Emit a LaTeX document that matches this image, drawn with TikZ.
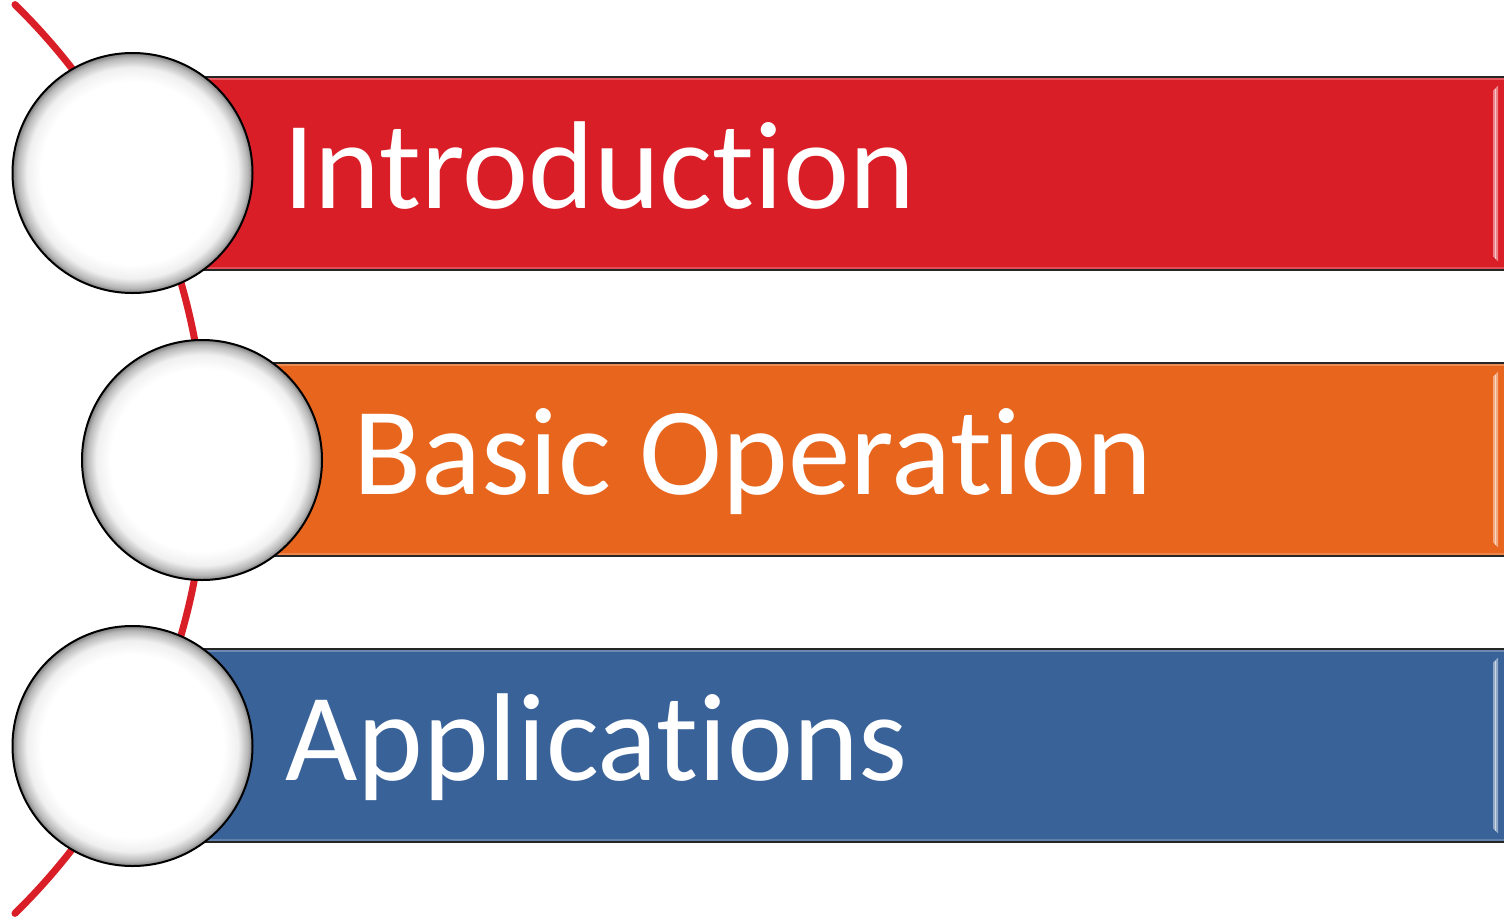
\documentclass[tikz,border=0pt]{standalone}
\usepackage{fontspec}
\setmainfont{Carlito}[Ligatures={NoCommon,NoRequired,NoContextual}]
\definecolor{barred}{HTML}{DA1E28}
\definecolor{barorange}{HTML}{E8651D}
\definecolor{barblue}{HTML}{396299}
\pgfdeclareradialshading{glossy}{\pgfpoint{0bp}{0bp}}{%
  color(0bp)=(white); color(19bp)=(white); color(22bp)=(black!6);
  color(24bp)=(black!28); color(25bp)=(black!50); color(50bp)=(black!50)}
\tikzset{
  bubble/.style={circle, minimum size=240pt, inner sep=0pt,
    shading=glossy, draw=black, line width=2pt},
  bar/.style={rectangle, minimum width=1380pt, minimum height=193pt,
    inner sep=0pt, draw=black!85, line width=2.5pt},
  caption/.style={anchor=base west, text=white, inner sep=0pt,
    font=\fontsize{125}{140}\selectfont},
  spine/.style={draw=barred, line width=7pt, line cap=round},
}
\begin{document}
\begin{tikzpicture}[x=1pt, y=-1pt]
  \clip (0,0) rectangle (1504,918);
  \fill[white] (0,0) rectangle (1504,918);

  % red spine behind the bubbles
  \draw[spine] (-430,459) ++(-45.6:636) arc[start angle=-45.6, end angle=45.6, radius=636];

  % coloured bars
  \node[bar, fill=barred]    (b1) at (830,173.5) {};
  \node[bar, fill=barorange] (b2) at (830,459.5) {};
  \node[bar, fill=barblue]   (b3) at (830,745.5) {};

  % soft highlight bands along the inner bar edges
  \foreach \b/\c in {b1/barred, b2/barorange, b3/barblue}{
    \draw[\c!75!white, line width=2pt] ([yshift=-3pt]\b.north west) -- ([yshift=-3pt]\b.north east);
    \draw[\c!80!white, line width=2pt] ([yshift=3pt]\b.south west) -- ([yshift=3pt]\b.south east);
  }

  % bevel strips near the right end of each bar
  \foreach \yc/\c in {173.5/barred, 459.5/barorange, 745.5/barblue}{
    \fill[\c!55!white] (1493,{\yc-83}) -- (1498,{\yc-88}) -- (1498,{\yc+88}) -- (1493,{\yc+83}) -- cycle;
    \draw[white!75!\c, line width=1.2pt] (1495.5,{\yc-85}) -- (1495.5,{\yc+85});
  }

  % bubbles
  \node[bubble] (c1) at (132.5,173) {};
  \node[bubble] (c2) at (202,460) {};
  \node[bubble] (c3) at (132.5,746) {};

  % captions
  \node[caption] (t1) at (283,208) {Introduction};
  \node[caption] (t2) at (353,494) {Basic Operation};
  \node[caption] (t3) at (285,780) {Applications};
\end{tikzpicture}
\end{document}
